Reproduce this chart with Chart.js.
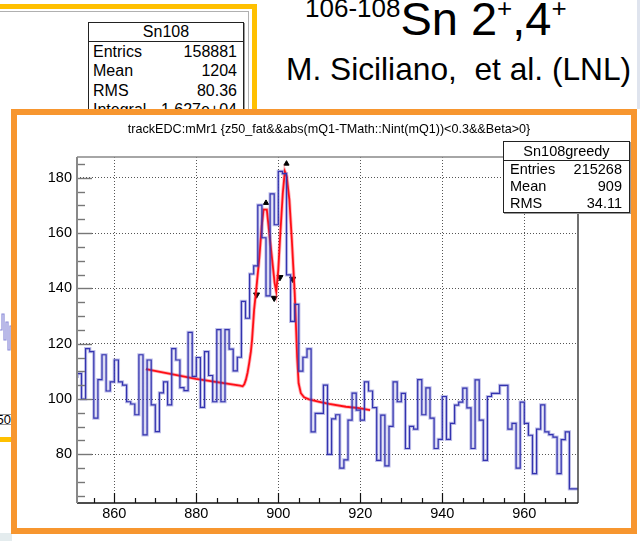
<!DOCTYPE html>
<html lang="en">
<head>
<meta charset="UTF-8" />
<title>Sn108greedy</title>
<script src="https://cdn.jsdelivr.net/npm/chart.js"></script>
<style>
  html, body { margin: 0; padding: 0; }
  body {
    width: 642px; height: 541px; position: relative; overflow: hidden;
    background: #fff; font-family: "Liberation Sans", Arial, sans-serif; color: #000;
  }
  .abs { position: absolute; }
  /* older plot frame behind the main one */
  #oldFrame { left: -20px; top: 4px; width: 267px; height: 428px; border: 5px solid #ffc000; }
  #oldPad { left: -20px; top: 11px; width: 268px; height: 414px; border-top: 1px solid #b0b0b0; border-right: 1px solid #b0b0b0; }
  .stats { background: #fff; border: 1px solid #222; box-shadow: 1px 1px 0 #999; }
  .stats .head { text-align: center; border-bottom: 1px solid #222; }
  .stats .row { display: flex; justify-content: space-between; }
  #old { left: 88px; top: 22px; width: 154px; height: 100px; font-size: 16px; }
  #old .head { height: 18px; line-height: 18px; }
  #old .row { height: 19.4px; line-height: 19.4px; padding: 0 6px 0 4px; }
  #title1 { left: 286px; top: 51px; font-size: 31.7px; white-space: pre; }
  #title0 { left: 305px; top: -9px; font-size: 47px; white-space: pre; }
  #title0 sup { font-size: 26px; vertical-align: 18px; line-height: 0; }
  #rightLine { left: 637px; top: 0; width: 3px; height: 109px; background: #dfe4ee; }
  #orange { left: 11px; top: 109px; width: 614px; height: 413px; border: 6px solid #f7962f; background: #fff; }
  #chart { left: 0; top: 0; }
  #greedy { left: 503px; top: 141px; width: 125px; height: 70px; font-size: 14.5px; }
  #greedy .head { height: 18px; line-height: 19px; }
  #greedy .row { height: 17.2px; line-height: 17.2px; padding: 0 7px 0 6px; }
</style>
</head>
<body>
  <div id="oldFrame" class="abs"></div>
  <div id="oldPad" class="abs"></div>
  <svg class="abs" style="left:0;top:300px" width="12" height="80">
    <polyline fill="none" stroke="#8a8ad8" stroke-width="1.2"
      points="0,30 2,30 2,14 4,14 4,40 6,40 6,22 8,22 8,50 10,50 10,26 12,26" />
  </svg>
  <div class="abs" style="left:-30px;top:414px;width:40px;height:9px;border:1px solid #999;font-size:13px;line-height:9px;text-align:right;overflow:hidden">50</div>
  <div class="abs" style="left:0;top:533px;width:12px;height:8px;background:#e4ecee"></div>

  <div id="old" class="abs stats">
    <div class="head">Sn108</div>
    <div class="row"><span>Entrics</span><span>158881</span></div>
    <div class="row"><span>Mean</span><span>1204</span></div>
    <div class="row"><span>RMS</span><span>80.36</span></div>
    <div class="row"><span>Integral</span><span>1.627e+04</span></div>
  </div>

  <div id="title0" class="abs"><sup>106-108</sup>Sn 2<sup>+</sup>,4<sup>+</sup></div>
  <div id="title1" class="abs">M. Siciliano,  et al. (LNL)</div>
  <div id="rightLine" class="abs"></div>

  <div id="orange" class="abs"></div>
  <canvas id="chart" class="abs" width="642" height="541"></canvas>

  <div id="greedy" class="abs stats">
    <div class="head">Sn108greedy</div>
    <div class="row"><span>Entries</span><span>215268</span></div>
    <div class="row"><span>Mean</span><span>909</span></div>
    <div class="row"><span>RMS</span><span>34.11</span></div>
  </div>

<script>
  // histogram: counts per 1-unit bin, first bin starts at binStart
  const binStart = 850;
  const counts = [
    108.2, 108.2, 109.2, 100.0, 118.2, 117.1, 93.1, 107.0, 116.0, 102.9,
    106.2, 114.1, 106.2, 105.0, 99.0, 98.2, 94.3, 116.0, 87.0, 114.1,
    97.9, 88.2, 102.2, 106.2, 97.9, 118.2, 114.1, 104.1, 103.0, 124.1,
    108.2, 115.0, 97.0, 117.1, 108.5, 99.0, 125.1, 99.0, 125.1, 118.0,
    110.2, 115.1, 135.3, 129.2, 145.2, 148.1, 170.1, 158.3, 137.3, 174.2,
    163.0, 182.3, 181.5, 144.9, 128.1, 134.2, 110.1, 115.1, 118.1, 88.1,
    94.8, 94.8, 105.0, 80.0, 92.8, 94.3, 75.0, 78.0, 92.4, 102.1,
    96.0, 92.4, 106.2, 102.9, 96.9, 77.8, 94.2, 75.8, 90.1, 106.2,
    99.0, 102.0, 82.1, 90.1, 89.1, 107.0, 94.3, 104.0, 93.1, 82.1,
    85.4, 100.9, 85.4, 91.2, 97.8, 98.9, 103.9, 96.8, 82.1, 106.9,
    92.4, 77.8, 100.9, 102.0, 102.0, 104.9, 104.9, 89.1, 91.2, 75.0,
    98.9, 91.2, 86.9, 73.0, 89.1, 97.9, 88.1, 87.1, 86.2, 73.0,
    85.3, 88.1, 67.5
  ];

  // fit curve (two peaks on a linear background)
  const fitX = [867.7, 879.9, 890.7, 891.3, 891.7, 892.1, 892.5, 892.9, 893.3, 893.6,
    894.1, 894.7, 895.4, 895.95, 896.4, 897.2, 897.8, 898.5, 899.1, 899.5,
    900.0, 900.5, 901.1, 901.6, 902.05, 902.7, 903.3, 904.0, 904.3, 904.6,
    904.95, 905.5, 906.3, 907.5, 910.0, 912.4, 916.5, 919.7, 922.4];
  const fitY = [110.8, 107.3, 104.8, 104.6, 105.3, 107.0, 109.5, 113.0, 117.0, 121.4,
    132.3, 140.7, 151.6, 162.4, 168.5, 168.5, 160.0, 150.4, 142.0, 138.9,
    146.8, 160.0, 174.5, 182.3, 180.5, 172.1, 157.6, 138.3, 127.0, 115.0,
    105.7, 102.1, 100.6, 99.9, 99.0, 98.2, 97.2, 96.7, 96.0];

  // peak search markers
  const peakX = [897.0, 902.0];
  const peakY = [170.9, 185.1];
  const edgeX = [894.7, 899.0, 900.4, 903.5];
  const edgeY = [137.7, 136.5, 144.0, 143.4];

  const xTicks = [860, 880, 900, 920, 940, 960];
  const yTicks = [80, 100, 120, 140, 160, 180];
  const xMin = 850.9, xMax = 973.1;
  const yMin = 62.4, yMax = 187.5;

  const histPts = counts.map((c, i) => ({ x: binStart + i, y: c }));
  histPts.push({ x: binStart + counts.length, y: counts[counts.length - 1] });
  const fitPts = fitX.map((x, i) => ({ x, y: fitY[i] }));
  const peakPts = peakX.map((x, i) => ({ x, y: peakY[i] }));
  const edgePts = edgeX.map((x, i) => ({ x, y: edgeY[i] }));

  const FONT = "'Liberation Sans', Arial, sans-serif";

  // ROOT style frame, inward ticks and the histogram title
  const rootFrame = {
    id: "rootFrame",
    afterDatasetsDraw(chart) {
      const { ctx, chartArea: a, scales: { x, y } } = chart;
      ctx.save();
      const seg = (x1, y1, x2, y2, color, w) => {
        ctx.strokeStyle = color; ctx.lineWidth = w;
        ctx.beginPath(); ctx.moveTo(x1, y1); ctx.lineTo(x2, y2); ctx.stroke();
      };
      for (let v = 855; v <= 970; v += 5) {
        const px = Math.round(x.getPixelForValue(v)) + 0.5;
        seg(px, a.bottom, px, a.bottom - (v % 20 === 0 ? 10 : 5), "#111", 1.2);
      }
      for (let v = 65; v <= 185; v += 5) {
        const py = Math.round(y.getPixelForValue(v)) + 0.5;
        seg(a.left, py, a.left + (v % 20 === 0 ? 15 : 8), py, "#777", 1.4);
      }
      seg(a.left, a.top, a.right, a.top, "#888", 1.5);
      seg(a.right, a.top, a.right, a.bottom, "#111", 1.2);
      seg(a.left, a.bottom, a.right, a.bottom, "#111", 1.5);
      seg(a.left, a.top, a.left, a.bottom, "#888", 2);

      ctx.fillStyle = "#000";
      ctx.font = "12.6px " + FONT;
      ctx.textAlign = "center";
      ctx.textBaseline = "middle";
      ctx.fillText("trackEDC:mMr1 {z50_fat&&abs(mQ1-TMath::Nint(mQ1))<0.3&&Beta>0}", 329, 130);
      ctx.restore();
    }
  };

  const ctx = document.getElementById("chart").getContext("2d");
  new Chart(ctx, {
    type: "line",
    data: {
      datasets: [
        { data: histPts, stepped: "after", borderColor: "rgba(70,70,190,0.35)", borderWidth: 3.2, pointRadius: 0 },
        { data: histPts, stepped: "after", borderColor: "#2a2aa8", borderWidth: 1.2, pointRadius: 0 },
        { data: fitPts, borderColor: "rgba(255,40,60,0.35)", borderWidth: 3.5, pointRadius: 0 },
        { data: fitPts, borderColor: "#ff0000", borderWidth: 1.8, pointRadius: 0 },
        { data: peakPts, showLine: false, pointStyle: "triangle", pointRadius: 3, backgroundColor: "#000", borderColor: "#000", borderWidth: 1 },
        { data: edgePts, showLine: false, pointStyle: "triangle", rotation: 180, pointRadius: 3.5, backgroundColor: "#000", borderColor: "#000", borderWidth: 1 }
      ]
    },
    options: {
      responsive: false,
      animation: false,
      layout: { padding: { left: 0, right: 64, top: 157, bottom: 0 } },
      plugins: { legend: { display: false }, tooltip: { enabled: false } },
      scales: {
        x: {
          type: "linear", min: xMin, max: xMax,
          afterFit(s) { s.height = 38; },
          afterBuildTicks(s) { s.ticks = xTicks.map(v => ({ value: v })); },
          grid: { color: "#555", lineWidth: 1, drawTicks: false },
          border: { display: false, dash: [1, 2] },
          ticks: { font: { family: FONT, size: 14.5 }, color: "#000", padding: 2, maxRotation: 0 }
        },
        y: {
          type: "linear", min: yMin, max: yMax,
          afterFit(s) { s.width = 77; },
          afterBuildTicks(s) { s.ticks = yTicks.map(v => ({ value: v })); },
          grid: { color: "#555", lineWidth: 1, drawTicks: false },
          border: { display: false, dash: [1, 2] },
          ticks: { font: { family: FONT, size: 14.5 }, color: "#000", padding: 5 }
        }
      }
    },
    plugins: [rootFrame]
  });
</script>
</body>
</html>
